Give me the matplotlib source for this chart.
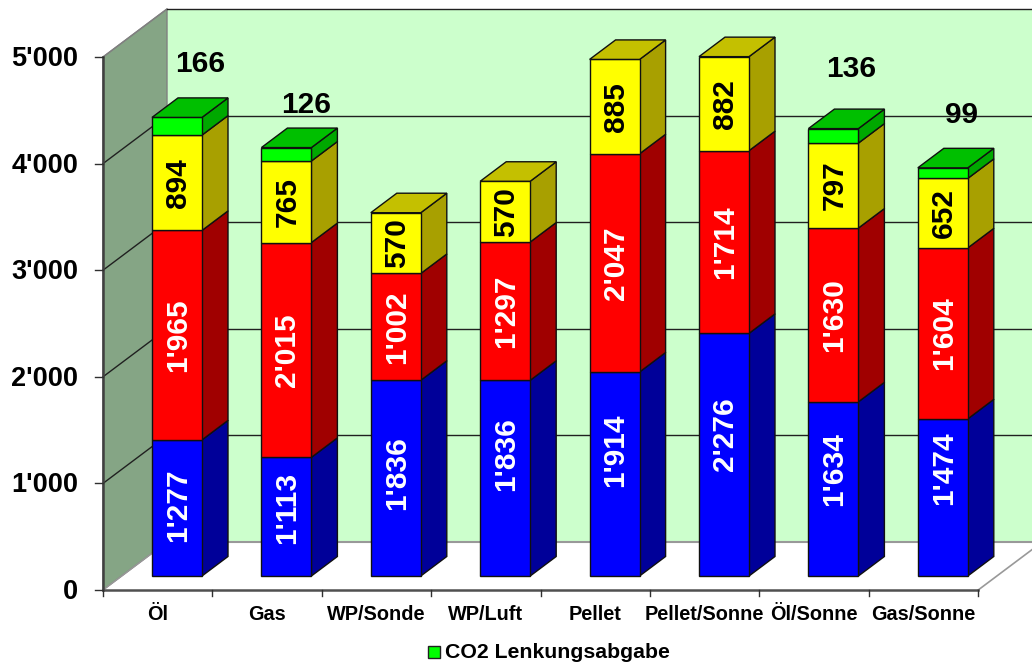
import matplotlib
matplotlib.use("Agg")
import matplotlib.pyplot as plt
from matplotlib.patches import Polygon, Rectangle

plt.rcParams['font.family'] = ['Liberation Sans', 'DejaVu Sans']
plt.rcParams['font.weight'] = 'bold'

categories = ["Öl", "Gas", "WP/Sonde", "WP/Luft", "Pellet", "Pellet/Sonne", "Öl/Sonne", "Gas/Sonne"]
blue_vals = [1277, 1113, 1836, 1836, 1914, 2276, 1634, 1474]
red_vals = [1965, 2015, 1002, 1297, 2047, 1714, 1630, 1604]
yellow_vals = [894, 765, 570, 570, 885, 882, 797, 652]
green_vals = [166, 126, 0, 0, 0, 0, 136, 99]
y_ticks = [0, 1000, 2000, 3000, 4000, 5000]
y_labels = ["0", "1'000", "2'000", "3'000", "4'000", "5'000"]

# px scale of the picture, axes fill the whole figure
W, H = 1032, 663
x0_px, y0_px = 103, 590
px_cat, px_val = 109.4, 0.1066

# 3d look
wall_dx, wall_dy = 64 / px_cat, 48 / px_val
bar_w = 50 / px_cat
bar_dx, bar_dy = 26 / px_cat, 19.5 / px_val
bar_shift, base_lift = 19.3 / px_cat, 14 / px_val

colors = [("#0000FF", "#000099", "#0000CC"),
          ("#FF0000", "#A00000", "#CC0000"),
          ("#FFFF00", "#A8A000", "#C4C000"),
          ("#00FF00", "#00A800", "#00BF00")]
text_col = ["white", "white", "black", "black"]

# blue labels were moved by hand in the original, lift in px
blue_lift = [3, 9, 5, 24, 24, 21, 20, 29]
# CO2 numbers, px position of each label
co2_x = [200, 306, None, None, None, None, 851, 962]
co2_y = [64, 105, None, None, None, None, 69, 115]


def px_x(p):
    return (p - x0_px) / px_cat


def px_y(p):
    return (y0_px - p) / px_val


fig = plt.figure(figsize=(W / 100, H / 100), dpi=100)
ax = fig.add_axes([0, 0, 1, 1])
ax.set_xlim(px_x(0), px_x(W))
ax.set_ylim(px_y(H), px_y(0))
ax.axis("off")

n = len(categories)
top = y_ticks[-1]
right_edge = px_x(W)

# walls
ax.add_patch(Polygon([(wall_dx, wall_dy), (right_edge, wall_dy), (right_edge, top + wall_dy), (wall_dx, top + wall_dy)],
                     fc="#CCFFCC", ec="none", zorder=1))
ax.add_patch(Polygon([(0, 0), (wall_dx, wall_dy), (wall_dx, top + wall_dy), (0, top)],
                     fc="#85A585", ec="#808080", lw=1, zorder=1))
ax.plot([wall_dx, right_edge], [wall_dy, wall_dy], color="#999999", lw=1.5, zorder=2)
ax.plot([0, wall_dx], [0, wall_dy], color="#999999", lw=1, zorder=2)
ax.plot([n, n + wall_dx], [0, wall_dy], color="#999999", lw=1.2, zorder=2)

# gridlines
for v in y_ticks[1:]:
    col = "#202020"
    if v < top:
        ax.plot([0, wall_dx], [v, v + wall_dy], color=col, lw=1, zorder=2)
    else:
        ax.plot([0, wall_dx], [v, v + wall_dy], color="#808080", lw=1, zorder=2)
    ax.plot([wall_dx, right_edge], [v + wall_dy, v + wall_dy], color=col, lw=1, zorder=2)

# axes lines and ticks
ax.plot([0, 0], [0, top], color="#404040", lw=1.8, zorder=3)
ax.plot([0, n], [0, 0], color="#505050", lw=1.8, zorder=3)
for v, lab in zip(y_ticks, y_labels):
    ax.plot([-8 / px_cat, 0], [v, v], color="#303030", lw=1, zorder=3)
    ax.text(-25 / px_cat, v - 2 / px_val, lab, ha="right", va="center", fontsize=19.5, color="black", zorder=6)
for i in range(n + 1):
    ax.plot([i, i], [0, -6 / px_val], color="#303030", lw=1, zorder=3)
for i, cat in enumerate(categories):
    ax.text(i + 0.5, -24 / px_val, cat, ha="center", va="center", fontsize=14.3, color="black", zorder=6)

# bars
series = [blue_vals, red_vals, yellow_vals, green_vals]
for i in range(n):
    left = i + 0.5 + bar_shift - bar_w / 2
    right = left + bar_w
    bottom = base_lift
    for s, vals in enumerate(series):
        v = vals[i]
        if v == 0:
            continue
        front, side, roof = colors[s]
        ax.add_patch(Polygon([(right, bottom), (right + bar_dx, bottom + bar_dy),
                              (right + bar_dx, bottom + v + bar_dy), (right, bottom + v)],
                             fc=side, ec="#101010", lw=1, zorder=4))
        ax.add_patch(Rectangle((left, bottom), bar_w, v, fc=front, ec="#101010", lw=1, zorder=4))
        if s < 3:
            lift = blue_lift[i] if s == 0 else 0
            ax.text((left + right) / 2 + 1 / px_cat, bottom + v / 2 + lift / px_val, f"{v:,}".replace(",", "'"), rotation=90,
                    ha="center", va="center", fontsize=21.5, color=text_col[s], zorder=5)
        bottom += v
    # roof of the stack
    last = [c for c, vals in zip(colors, series) if vals[i] > 0][-1]
    ax.add_patch(Polygon([(left, bottom), (right, bottom), (right + bar_dx, bottom + bar_dy), (left + bar_dx, bottom + bar_dy)],
                         fc=last[2], ec="#101010", lw=1, zorder=4))
    # CO2 numbers sit above the bar
    if green_vals[i] > 0:
        ax.text(px_x(co2_x[i]), px_y(co2_y[i]), str(green_vals[i]), ha="center", va="center",
                fontsize=21.5, color="black", zorder=6)

# legend
ax.add_patch(Rectangle((px_x(428), px_y(658)), 12 / px_cat, 12 / px_val,
                       fc="#00FF00", ec="#202020", lw=1, zorder=6))
ax.text(px_x(445), px_y(652), "CO2 Lenkungsabgabe", ha="left", va="center",
        fontsize=15.3, color="black", zorder=6)

fig.savefig("out.png", dpi=100)
